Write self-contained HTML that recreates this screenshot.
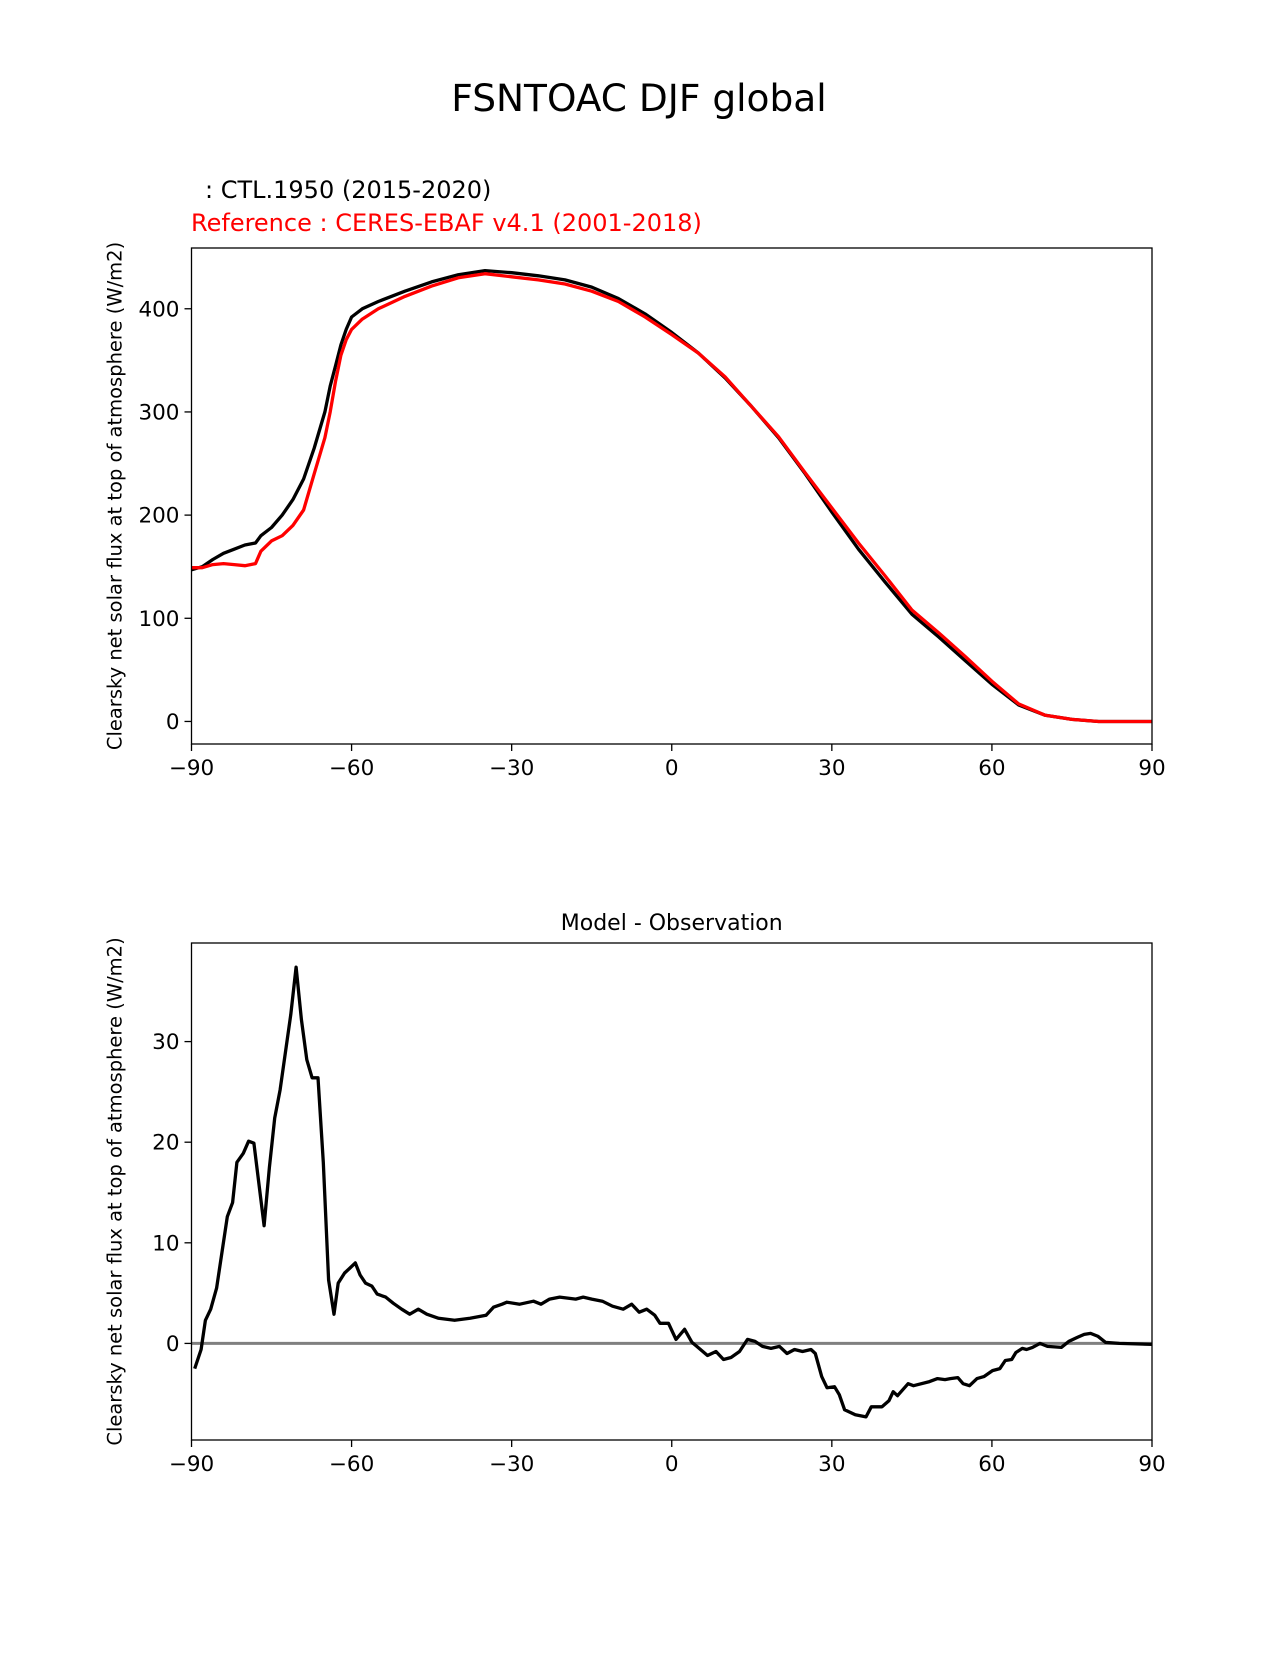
<!DOCTYPE html>
<html><head><meta charset="utf-8"><style>
html,body{margin:0;padding:0;background:#fff;}
svg text{font-family:"DejaVu Sans","Liberation Sans",sans-serif;}
</style></head><body>
<svg id="fig" width="1275" height="1650" viewBox="0 0 1275 1650" xmlns="http://www.w3.org/2000/svg">
<rect width="1275" height="1650" fill="#fff"/>
<text x="639" y="111" font-size="37.5" text-anchor="middle">FSNTOAC DJF global</text>
<text x="205" y="198" font-size="24">: CTL.1950 (2015-2020)</text>
<text x="191" y="231" font-size="24" fill="#ff0000">Reference : CERES-EBAF v4.1 (2001-2018)</text>
<g id="topPanel"></g>
<g id="botPanel"></g>
</svg>
<script>
const lats = [-90,-88,-86,-84,-82,-80,-78,-77,-75,-73,-71,-69,-67,-65,-64,-63,-62,-61,-60,-58,-55,-50,-45,-40,-35,-30,-25,-20,-15,-10,-5,0,5,10,15,20,25,30,35,40,45,50,55,60,65,70,75,80,85,90];
const modelVals = [147,150,157,163,167,171,173,180,188,200,215,235,265,300,325,345,365,380,392,400,407,417,426,433,437,435,432,428,421,410,395,377,357,333,305,275,240,203,167,135,104,82,59,36,16,6,2,0,0,0];
const refVals = [149,149,152,153,152,151,153,165,175,180,190,205,240,275,300,330,355,370,380,390,400,412,422,430,434,431,428,424,417,407,392,375,357,334,305,276,241,207,173,141,108,86,63,39,17,6,2,0,0,0];
const diffLats = [-89.4,-88.2,-87.4,-86.4,-85.3,-83.3,-82.3,-81.5,-80.3,-79.3,-78.3,-76.4,-75.4,-74.4,-73.4,-71.4,-70.4,-69.4,-68.4,-67.4,-66.3,-65.3,-64.3,-63.3,-62.5,-61.3,-60.3,-59.3,-58.4,-57.4,-56.2,-55.2,-53.6,-52.2,-50.6,-49.1,-47.5,-45.9,-43.7,-40.7,-37.8,-34.8,-33.4,-31.8,-30.9,-28.5,-25.9,-24.5,-22.9,-21,-18,-16.6,-15,-13,-11.1,-9.1,-7.5,-6.1,-4.7,-3.2,-2.2,-0.6,0.8,2.4,3.8,4.7,6.7,8.3,9.7,11.1,12.7,14.2,15.6,17,18.6,20.2,21.6,23,24.5,26.1,26.9,28.1,29.1,30.5,31.4,32.4,34.4,36.4,37.4,39.4,40.7,41.5,42.3,44.3,45.3,48.3,49.8,51.2,52.2,53.6,54.6,55.8,57.2,58.5,60.1,61.5,62.5,63.7,64.5,65.7,66.5,67.6,69,70.4,73,74.4,76,77.3,78.5,79.9,81.3,83.9,90];
const diffVals = [-2.5,-0.6,2.3,3.4,5.5,12.6,14,18,18.9,20.1,19.9,11.7,17.5,22.4,25.2,32.7,37.4,32.2,28.2,26.4,26.4,18,6.3,2.9,6,7,7.5,8,6.8,6,5.7,4.9,4.6,4,3.4,2.9,3.4,2.9,2.5,2.3,2.5,2.8,3.6,3.9,4.1,3.9,4.2,3.9,4.4,4.6,4.4,4.6,4.4,4.2,3.7,3.4,3.9,3.1,3.4,2.8,2,2,0.4,1.4,0.1,-0.3,-1.2,-0.8,-1.6,-1.4,-0.8,0.4,0.2,-0.3,-0.5,-0.3,-1,-0.6,-0.8,-0.6,-1,-3.3,-4.4,-4.3,-5.1,-6.6,-7.1,-7.3,-6.3,-6.3,-5.7,-4.8,-5.2,-4,-4.2,-3.8,-3.5,-3.6,-3.5,-3.4,-4,-4.2,-3.5,-3.3,-2.7,-2.5,-1.7,-1.6,-0.9,-0.5,-0.6,-0.4,0,-0.3,-0.4,0.2,0.6,0.9,1,0.7,0.1,0,-0.1];
const xTicks = [-90,-60,-30,0,30,60,90];
const xTickLabels = ["\u221290","\u221260","\u221230","0","30","60","90"];
const topYTicks = [0,100,200,300,400];
const botYTicks = [0,10,20,30];

const NS = "http://www.w3.org/2000/svg";
function mk(tag, attrs, parent){const e=document.createElementNS(NS,tag);for(const k in attrs)e.setAttribute(k,attrs[k]);parent.appendChild(e);return e;}

function panel(g, box, ymin, ymax, yTicks, label){
  const xs = v => box.l + (v+90)/180*(box.r-box.l);
  const ys = v => box.b - (v-ymin)/(ymax-ymin)*(box.b-box.t);
  xTicks.forEach((t,i)=>{
    const tk=mk('line',{x1:xs(t),x2:xs(t),y1:box.b,y2:box.b+7,stroke:'#000','stroke-width':1.3},g);
    
    
    const tl=mk('text',{x:xs(t),y:box.b+31,'font-size':21.5,'text-anchor':'middle'},g);
    tl.textContent=xTickLabels[i];
    
    
  });
  yTicks.forEach(t=>{
    const tk=mk('line',{x1:box.l-7,x2:box.l,y1:ys(t),y2:ys(t),stroke:'#000','stroke-width':1.3},g);
    
    
    const tl=mk('text',{x:box.l-12,y:ys(t)+7.5,'font-size':21.5,'text-anchor':'end'},g);
    tl.textContent=String(t);
    
    
  });
  const cy=(box.t+box.b)/2;
  const yl=mk('text',{x:0,y:0,'font-size':19.5,'text-anchor':'middle',transform:`translate(${box.l-70},${cy}) rotate(-90)`},g);
  yl.textContent=label;
  
  
  return {xs,ys};
}
function drawLine(g, xsArr, ysArr, f, color, w, name){
  const d = xsArr.map((x,i)=>(i?'L':'M')+f.xs(x).toFixed(1)+','+f.ys(ysArr[i]).toFixed(1)).join(' ');
  const p=mk('path',{d,fill:'none',stroke:color,'stroke-width':w,'stroke-linejoin':'round'},g);
  
  
}
const YL="Clearsky net solar flux at top of atmosphere (W/m2)";
const topG=document.getElementById('topPanel');
const tb={l:191.5,r:1152,t:248,b:744};
const ft=panel(topG,tb,-21.85,458.9,topYTicks,YL);
drawLine(topG,lats,modelVals,ft,'#000',3.3,'model-line');
drawLine(topG,lats,refVals,ft,'#ff0000',3.3,'reference-line');
const tf=mk('rect',{x:tb.l,y:tb.t,width:tb.r-tb.l,height:tb.b-tb.t,fill:'none',stroke:'#000','stroke-width':1.3},topG);



const botG=document.getElementById('botPanel');
const bb={l:191.5,r:1152,t:943,b:1440};
const fb=panel(botG,bb,-9.6,39.8,botYTicks,YL);
const zl=mk('line',{x1:bb.l,x2:bb.r,y1:fb.ys(0),y2:fb.ys(0),stroke:'#808080','stroke-width':3},botG);


drawLine(botG,diffLats,diffVals,fb,'#000',3.3,'difference-line');
const bf=mk('rect',{x:bb.l,y:bb.t,width:bb.r-bb.l,height:bb.b-bb.t,fill:'none',stroke:'#000','stroke-width':1.3},botG);


const bt=mk('text',{x:(bb.l+bb.r)/2,y:930,'font-size':22,'text-anchor':'middle'},botG);
bt.textContent="Model - Observation";


</script>
</body></html>
